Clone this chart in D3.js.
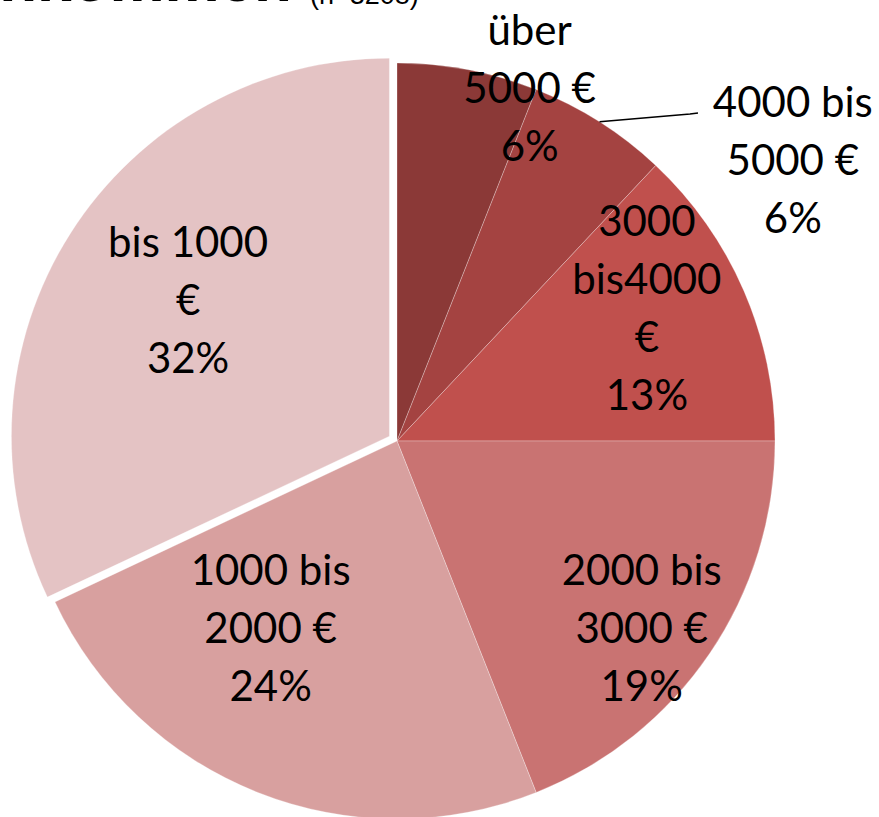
<!DOCTYPE html>
<html>
<head>
<meta charset="utf-8">
<script src="https://cdn.jsdelivr.net/npm/d3@7"></script>
<style>
  body { margin: 0; background: #fff; }
  svg { display: block; }
</style>
</head>
<body>
<div id="chart"></div>
<script>
// income groups, clockwise from 12 o'clock
var categories = ["über 5000 €", "4000 bis 5000 €", "3000 bis4000 €", "2000 bis 3000 €", "1000 bis 2000 €", "bis 1000 €"];
var labelLines = [
    ["über", "5000 €", "6%"],
    ["4000 bis", "5000 €", "6%"],
    ["3000", "bis4000", "€", "13%"],
    ["2000 bis", "3000 €", "19%"],
    ["1000 bis", "2000 €", "24%"],
    ["bis 1000", "€", "32%"]
];
var shares = [6, 6, 13, 19, 24, 32];
var colors = ["#8b3937", "#a44341", "#c0504d", "#c97372", "#d8a09f", "#e4c3c4"];

var width = 879;
var height = 817;
var cx = 397, cy = 441;
var radius = 378;
var lineH = 58;

// label placement: [angle in degrees from top, distance from centre]
var labelAt = [[20.6, 377], [54.7, 485], [62, 283], [127.4, 308], [214, 226], [304, 252]];
var explode = [0, 0, 0, 0, 0, 9];

var svg = d3.select("#chart").append("svg")
    .attr("width", width)
    .attr("height", height);

// title, mostly cut off at the top
svg.append("text")
    .attr("x", 292)
    .attr("y", 1)
    .attr("text-anchor", "end")
    .style("font-family", "'Liberation Sans', Arial, sans-serif")
    .style("font-weight", "bold")
    .style("font-size", "62px")
    .text("Einkommen");
svg.append("text")
    .attr("x", 310)
    .attr("y", 4)
    .style("font-family", "'Liberation Sans', Arial, sans-serif")
    .style("font-size", "27px")
    .text("(n=3208)");

var pie = d3.pie().sort(null).value(function(d) { return d; });
var arcs = pie(shares);

var arc = d3.arc().innerRadius(0).outerRadius(radius);

var g = svg.append("g")
    .attr("transform", "translate(" + cx + "," + cy + ")");

g.selectAll("path")
    .data(arcs)
    .join("path")
    .attr("transform", function(d, i) {
        var a = (d.startAngle + d.endAngle) / 2;
        return "translate(" + (Math.sin(a) * explode[i]) + "," + (-Math.cos(a) * explode[i]) + ")";
    })
    .attr("d", arc)
    .attr("fill", function(d, i) { return colors[i]; })
    .attr("stroke", "rgba(255,255,255,0.35)")
    .attr("stroke-width", 0.8);

// leader line for the outside label
var lead = arcs[1];
var la = (lead.startAngle + lead.endAngle) / 2;
var p0 = [Math.sin(la) * radius, -Math.cos(la) * radius];
g.append("polyline")
    .attr("points", [p0, [293, -327], [301, -328]].map(function(p) { return p.join(","); }).join(" "))
    .attr("fill", "none")
    .attr("stroke", "#000")
    .attr("stroke-width", 1.5);

var labels = g.selectAll("text.lbl")
    .data(arcs)
    .join("text")
    .attr("class", "lbl")
    .attr("text-anchor", "middle")
    .style("font-family", "Lato, 'Open Sans', sans-serif")
    .style("font-size", "42px")
    .attr("fill", "#000");

labels.each(function(d, i) {
    var a = labelAt[i][0] * Math.PI / 180;
    var r = labelAt[i][1];
    var x = Math.sin(a) * r;
    var y = -Math.cos(a) * r;
    var lines = labelLines[i];
    var y0 = y - (lines.length - 1) / 2 * lineH;
    d3.select(this).selectAll("tspan")
        .data(lines)
        .join("tspan")
        .attr("x", x)
        .attr("y", function(t, j) { return y0 + j * lineH; })
        .attr("dy", "0.35em")
        .text(function(t) { return t; });
});
</script>
</body>
</html>
